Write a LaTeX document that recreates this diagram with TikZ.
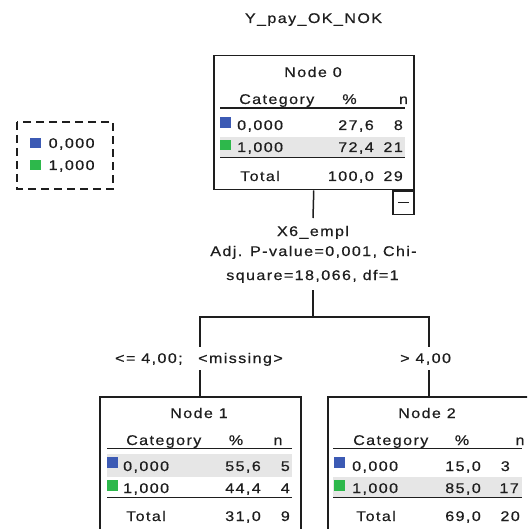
\documentclass[tikz,border=0pt]{standalone}
\usepackage{fontspec}
\newfontfamily\spss[FakeStretch=1.15,LetterSpace=10,FakeBold=0.5]{Liberation Sans}
\definecolor{ink}{HTML}{1E1E1E}
\definecolor{catblue}{HTML}{3C5AB4}
\definecolor{catgreen}{HTML}{2DB84B}
\definecolor{band}{HTML}{E6E6E6}
\tikzset{
  txt/.style={inner sep=0pt, text=ink, font=\spss\fontsize{14}{16}\selectfont},
  lt/.style={txt, anchor=base west},
  rt/.style={txt, anchor=base east},
  ct/.style={txt, anchor=base},
  frame/.style={draw=ink, line width=1.5pt, anchor=north west, inner sep=0pt},
  rule/.style={draw=ink, line width=1.4pt},
  branch/.style={draw=ink, line width=1.5pt},
  swatch/.style={inner sep=0pt, minimum width=10.5pt, minimum height=10.5pt, anchor=north west}
}
\begin{document}
\begin{tikzpicture}[x=1pt,y=-1pt]
\clip (0,0) rectangle (527,529);
\fill[white] (0,0) rectangle (527,529);

% dependent variable
\node[ct] (title) at (313.5,23) {Y\_pay\_OK\_NOK};

% legend
\draw[ink, line width=1.3pt, dash pattern=on 8pt off 5pt] (17,122) rectangle (113,189);
\node[swatch, fill=catblue] (lgb) at (30,137.5) {};
\node[swatch, fill=catgreen] (lgg) at (30,159.5) {};
\node[lt] (lgbt) at (48.5,148) {0,000};
\node[lt] (lggt) at (48.5,170) {1,000};

% ---------- Node 0 ----------
\fill[band] (220,137) rectangle (405,157);
\node[frame, minimum width=200pt, minimum height=134pt] (n0) at (213,55) {};
\node[ct] (n0t) at (313,77) {Node 0};
\node[lt] at (239,104) {Category};
\node[ct] at (349.5,104) {\%};
\node[ct] at (403.5,104) {n};
\draw[rule] (220,108) -- (405,108);
\node[swatch, fill=catblue] at (220,117) {};
\node[lt] at (237,130) {0,000};
\node[rt] at (374,130) {27,6};
\node[rt] at (403,130) {8};
\node[swatch, fill=catgreen] at (220,139.5) {};
\node[lt] at (237,152) {1,000};
\node[rt] at (374,152) {72,4};
\node[rt] at (403,152) {21};
\draw[rule] (220,157.5) -- (405,157.5);
\node[lt] at (240,181) {Total};
\node[rt] at (374,181) {100,0};
\node[rt] at (403,181) {29};
% collapse toggle
\node[draw=ink, line width=1.5pt, inner sep=0pt, minimum width=21pt, minimum height=23pt, anchor=north east] (tog) at (n0.south east) {};
\draw[ink, line width=1.3pt] ([xshift=-5.5pt]tog.center) -- ([xshift=5.5pt]tog.center);

% ---------- split statistics ----------
\node[ct] (var) at (313,236) {X6\_empl};
\node[ct] (stat1) at (313.5,256) {Adj. P-value=0,001, Chi-};
\node[ct] (stat2) at (312.5,280) {square=18,066, df=1};
\coordinate (c0) at (313,218);
\coordinate (s0) at (313,290);
\coordinate (fork) at (313,317);
\coordinate (l1) at (200,347);
\coordinate (l2) at (200,370);
\coordinate (r1) at (429,347);
\coordinate (r2) at (429,370);
\draw[branch] (n0.south) -- (c0);
\draw[branch] (s0) -- (fork);
\draw[branch] (fork) -| (l1);
\draw[branch] (fork) -| (r1);
\node[lt] (lab1a) at (115,363) {<= 4,00;};
\node[lt] (lab1b) at (198,363) {<missing>};
\node[lt] (lab2) at (400,363) {> 4,00};

% ---------- Node 1 ----------
\fill[band] (107,454) rectangle (292,477);
\node[frame, minimum width=201pt, minimum height=150pt] (n1) at (99,396) {};
\node[ct] at (199,418) {Node 1};
\node[lt] at (126,445) {Category};
\node[ct] at (236,445) {\%};
\node[ct] at (278,445) {n};
\draw[rule] (107,448.5) -- (292,448.5);
\node[swatch, fill=catblue] at (107,457) {};
\node[lt] at (123,471) {0,000};
\node[rt] at (261,471) {55,6};
\node[rt] at (290,471) {5};
\node[swatch, fill=catgreen] at (107,480) {};
\node[lt] at (123,493) {1,000};
\node[rt] at (261,493) {44,4};
\node[rt] at (290,493) {4};
\draw[rule] (107,497.5) -- (292,497.5);
\node[lt] at (126,521) {Total};
\node[rt] at (261,521) {31,0};
\node[rt] at (290,521) {9};
\draw[branch] (l2) -- (l2 |- n1.north);

% ---------- Node 2 ----------
\fill[band] (333,476.5) rectangle (522,497);
\node[frame, minimum width=201pt, minimum height=150pt] (n2) at (327,396) {};
\node[ct] at (427,418) {Node 2};
\node[lt] at (353,445) {Category};
\node[ct] at (462,445) {\%};
\node[ct] at (520,445) {n};
\draw[rule] (333,448.5) -- (522,448.5);
\node[swatch, fill=catblue] at (334,457) {};
\node[lt] at (352,471) {0,000};
\node[rt] at (481,471) {15,0};
\node[rt] at (510,471) {3};
\node[swatch, fill=catgreen] at (334,480) {};
\node[lt] at (352,493) {1,000};
\node[rt] at (481,493) {85,0};
\node[rt] at (519,493) {17};
\draw[rule] (333,497.5) -- (522,497.5);
\node[lt] at (356,521) {Total};
\node[rt] at (481,521) {69,0};
\node[rt] at (520,521) {20};
\draw[branch] (r2) -- (r2 |- n2.north);
\end{tikzpicture}
\end{document}
